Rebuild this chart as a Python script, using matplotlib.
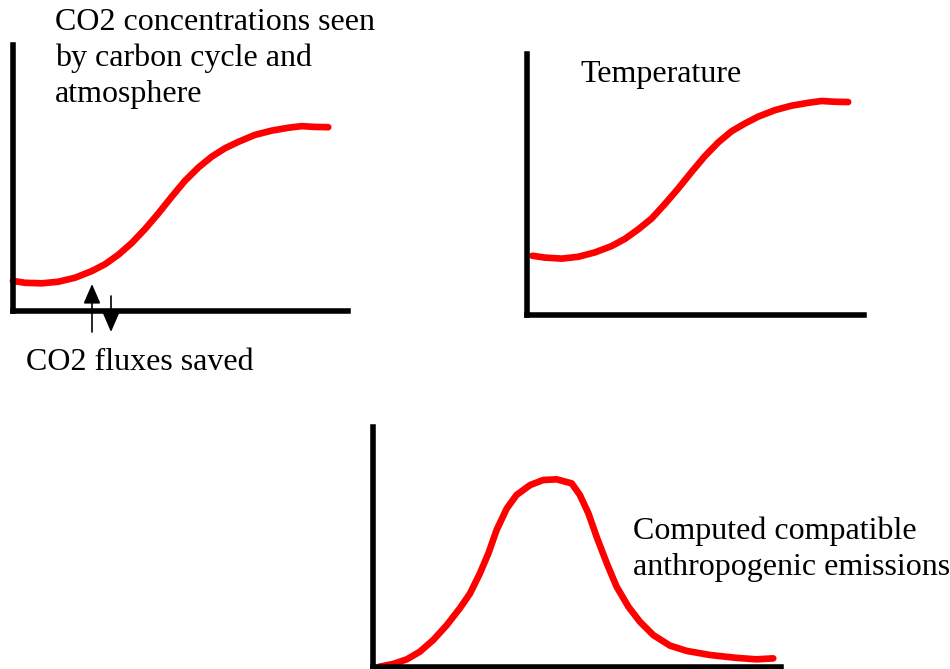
import numpy as np
import matplotlib.pyplot as plt
from matplotlib.patches import FancyArrowPatch

W, H = 950, 669

# curves (x: time 0-100, y: 0-100 of each panel)
co2_x = [0, 3.6, 8.6, 13.5, 18.5, 23.5, 27.5, 31.4, 35.4, 39.4, 43.4, 47.4,
         51.3, 55.3, 59.3, 63.3, 67.3, 72.2, 77.2, 82.2, 86.2, 90.1, 94.1]
co2_y = [11.3, 10.6, 10.4, 11.0, 12.5, 15.0, 17.6, 21.1, 25.5, 30.8, 36.7, 43.0,
         48.9, 53.9, 58.0, 61.2, 63.6, 66.2, 67.8, 68.9, 69.5, 69.2, 69.1]

temp_x = [1.6, 5.3, 10.3, 15.2, 20.2, 25.1, 29.1, 33.0, 37.0, 40.9, 44.9, 48.9,
          52.8, 56.8, 60.7, 64.7, 68.6, 73.6, 78.5, 83.5, 87.4, 91.4, 95.3]
temp_y = [22.7, 22.0, 21.6, 22.3, 24.0, 26.4, 29.2, 32.8, 37.0, 42.5, 48.5, 54.9,
          60.9, 66.2, 70.4, 73.4, 76.0, 78.5, 80.2, 81.3, 82.0, 81.7, 81.6]

emis_x = [1.5, 5.0, 8.3, 11.5, 14.8, 18.1, 21.3, 23.8, 26.2, 28.3, 30.3, 32.8,
          35.2, 38.5, 41.7, 45.0, 48.7, 50.7, 52.8, 54.8, 57.3, 59.7, 62.6, 65.4,
          68.7, 72.8, 76.9, 82.6, 89.1, 94.0, 98.1]
emis_y = [0.1, 1.3, 3.2, 6.4, 11.3, 17.5, 24.5, 30.7, 39.0, 47.4, 57.1, 66.1,
          71.7, 75.8, 77.9, 78.2, 76.5, 71.7, 64.0, 54.3, 43.2, 33.5, 25.1, 18.9,
          13.3, 8.9, 6.7, 5.0, 3.8, 3.2, 3.6]

labels = {
    "co2": "CO2 concentrations seen\nby carbon cycle and\natmosphere",
    "temp": "Temperature",
    "flux": "CO2 fluxes saved",
    "emis": "Computed compatible\nanthropogenic emissions",
}

plt.rcParams['font.family'] = ['Liberation Serif', 'DejaVu Serif']

fig = plt.figure(figsize=(W / 100, H / 100), dpi=100)


def panel(left, top, right, bottom):
    # box given in pixels from the top-left corner
    ax = fig.add_axes([left / W, (H - bottom) / H, (right - left) / W, (bottom - top) / H])
    ax.set_xlim(0, 100)
    ax.set_ylim(0, 100)
    for s in ['top', 'right']:
        ax.spines[s].set_visible(False)
    for s in ['left', 'bottom']:
        ax.spines[s].set_linewidth(4)
    ax.set_xticks([])
    ax.set_yticks([])
    ax.patch.set_alpha(0)
    return ax


def fpos(x, y):
    return x / W, (H - y) / H


curve = dict(color='red', lw=4.8, solid_capstyle='round', solid_joinstyle='round',
             clip_on=False)

ax1 = panel(13, 45, 348, 311)
ax1.plot(co2_x, co2_y, **curve)

ax2 = panel(527, 54, 864, 315)
ax2.plot(temp_x, temp_y, **curve)

ax3 = panel(373, 427, 781, 667)
ax3.plot(emis_x, emis_y, **curve)

# va='baseline' sits on the last line of a multi-line text
fs = 23
fig.text(*fpos(55, 102), labels["co2"], fontsize=fs, va='baseline', linespacing=1.3)
fig.text(*fpos(580, 82), labels["temp"], fontsize=fs, va='baseline')
fig.text(*fpos(26, 370), labels["flux"], fontsize=fs, va='baseline')
fig.text(*fpos(633, 575), labels["emis"], fontsize=fs, va='baseline', linespacing=1.3)

# flux arrows, up and down
arrow = dict(arrowstyle='-|>,head_length=0.6,head_width=0.26', mutation_scale=20,
             lw=1.2, color='black', shrinkA=0, shrinkB=0)
fig.add_artist(FancyArrowPatch(fpos(92, 332), fpos(92, 284),
                               transform=fig.transFigure, **arrow))
fig.add_artist(FancyArrowPatch(fpos(111, 296), fpos(111, 332),
                               transform=fig.transFigure, **arrow))

fig.savefig('out.png', dpi=100)
